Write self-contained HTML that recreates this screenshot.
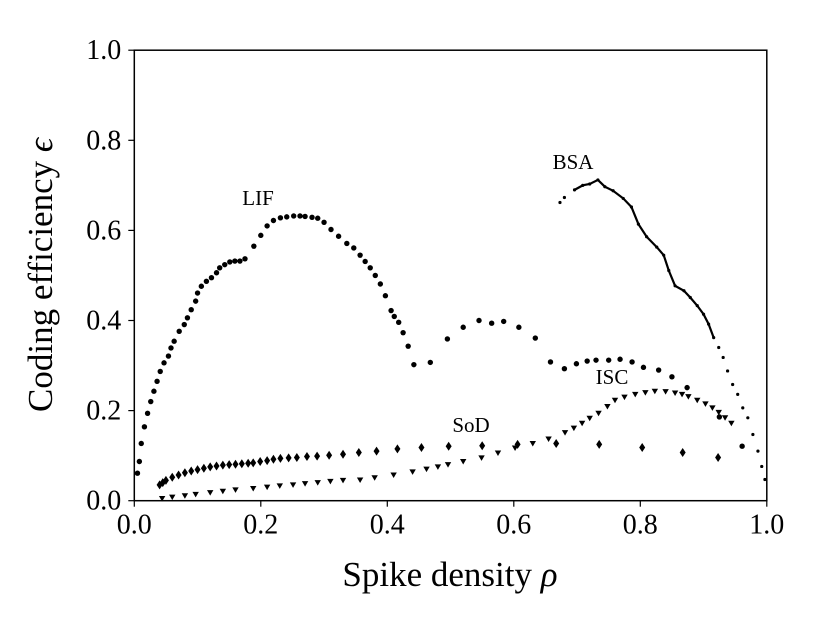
<!DOCTYPE html>
<html><head><meta charset="utf-8">
<style>
html,body{margin:0;padding:0;background:#fff;}
svg{display:block;font-family:"Liberation Serif","DejaVu Serif",serif;}
</style></head>
<body>
<svg id="chart" width="830" height="623" viewBox="0 0 830 623" xmlns="http://www.w3.org/2000/svg">
<g id="axes"></g>
<g id="marks"></g>
</svg>
<script>
const xTicks = [0, 0.2, 0.4, 0.6, 0.8, 1.0];
const xTickLabels = ["0.0","0.2","0.4","0.6","0.8","1.0"];
const yTicks = [0, 0.2, 0.4, 0.6, 0.8, 1.0];
const yTickLabels = ["0.0","0.2","0.4","0.6","0.8","1.0"];

const lifX = [0.005,0.008,0.011,0.016,0.021,0.026,0.031,0.036,0.041,0.047,0.054,0.058,0.063,0.071,0.079,0.084,0.090,0.097,0.100,0.106,0.114,0.122,0.130,0.135,0.143,0.151,0.159,0.167,0.175,0.189,0.200,0.210,0.220,0.231,0.241,0.252,0.262,0.270,0.281,0.290,0.300,0.311,0.323,0.336,0.347,0.357,0.365,0.373,0.381,0.389,0.397,0.406,0.411,0.418,0.425,0.433,0.442,0.468,0.495,0.520,0.545,0.565,0.584,0.608,0.634,0.658,0.680,0.699,0.716,0.730,0.750,0.768,0.787,0.805,0.829,0.850,0.874,0.925,0.961];
const lifY = [0.061,0.087,0.127,0.164,0.194,0.220,0.243,0.265,0.287,0.306,0.321,0.339,0.354,0.376,0.391,0.406,0.424,0.443,0.461,0.476,0.487,0.495,0.506,0.517,0.524,0.530,0.532,0.532,0.537,0.565,0.589,0.610,0.622,0.628,0.630,0.632,0.632,0.631,0.629,0.627,0.618,0.602,0.587,0.571,0.561,0.545,0.531,0.517,0.500,0.481,0.455,0.422,0.409,0.396,0.373,0.343,0.302,0.307,0.359,0.385,0.400,0.394,0.398,0.385,0.361,0.308,0.293,0.304,0.310,0.312,0.312,0.314,0.308,0.296,0.290,0.275,0.251,0.186,0.121];

const bsaX = [0.673,0.680,0.696,0.709,0.720,0.733,0.744,0.757,0.773,0.786,0.797,0.810,0.826,0.837,0.845,0.855,0.869,0.879,0.890,0.900,0.908,0.916,0.924,0.931,0.938,0.946,0.954,0.962,0.970,0.978,0.986,0.992,0.997];
const bsaY = [0.662,0.673,0.690,0.700,0.703,0.712,0.697,0.688,0.671,0.652,0.614,0.586,0.563,0.545,0.511,0.477,0.466,0.451,0.433,0.414,0.392,0.362,0.340,0.318,0.288,0.258,0.236,0.206,0.184,0.147,0.110,0.076,0.047];

const sodX = [0.040,0.045,0.050,0.060,0.070,0.080,0.090,0.100,0.110,0.120,0.130,0.140,0.150,0.160,0.170,0.180,0.188,0.199,0.210,0.220,0.231,0.244,0.257,0.273,0.289,0.308,0.330,0.355,0.383,0.416,0.454,0.497,0.550,0.606,0.667,0.735,0.803,0.867,0.923];
const sodY = [0.035,0.040,0.045,0.052,0.057,0.062,0.066,0.069,0.072,0.075,0.077,0.079,0.080,0.081,0.082,0.083,0.084,0.087,0.089,0.092,0.094,0.095,0.096,0.098,0.099,0.101,0.103,0.107,0.110,0.115,0.118,0.121,0.122,0.125,0.127,0.125,0.118,0.107,0.096];

const iscX = [0.044,0.060,0.080,0.097,0.120,0.140,0.160,0.188,0.210,0.230,0.251,0.270,0.290,0.310,0.330,0.357,0.380,0.410,0.440,0.462,0.480,0.496,0.520,0.549,0.575,0.602,0.630,0.655,0.681,0.695,0.708,0.720,0.734,0.748,0.760,0.775,0.792,0.808,0.823,0.840,0.855,0.866,0.876,0.890,0.903,0.914,0.924,0.934,0.944];
const iscY = [0.005,0.008,0.011,0.014,0.018,0.021,0.024,0.027,0.030,0.033,0.035,0.038,0.040,0.043,0.045,0.046,0.051,0.057,0.064,0.070,0.075,0.080,0.087,0.095,0.106,0.117,0.127,0.137,0.151,0.161,0.172,0.183,0.194,0.209,0.223,0.230,0.236,0.240,0.243,0.242,0.239,0.236,0.231,0.223,0.215,0.206,0.196,0.184,0.172];

const X0=134.3, XW=632.5, Y0=500.7, YH=450.5;
function sx(v){return X0+v*XW;}
function sy(v){return Y0-v*YH;}
const NS="http://www.w3.org/2000/svg";
function mk(tag, attrs, parent){const e=document.createElementNS(NS,tag);for(const k in attrs)e.setAttribute(k,attrs[k]);parent.appendChild(e);return e;}
const axes=document.getElementById('axes');
const marks=document.getElementById('marks');

const frame=mk('rect',{x:X0,y:sy(1),width:XW,height:YH,fill:'none',stroke:'#000','stroke-width':1.5},axes);



xTicks.forEach((t,i)=>{
  const l=mk('line',{x1:sx(t),x2:sx(t),y1:Y0,y2:Y0+6,stroke:'#000','stroke-width':1.2},axes);
  
  
  const tx=mk('text',{x:sx(t),y:Y0+33,'text-anchor':'middle','font-size':28},axes);
  tx.textContent=xTickLabels[i];
  
  
});
yTicks.forEach((t,i)=>{
  const l=mk('line',{x1:X0-6,x2:X0,y1:sy(t),y2:sy(t),stroke:'#000','stroke-width':1.2},axes);
  
  
  const tx=mk('text',{x:X0-13,y:sy(t)+9,'text-anchor':'end','font-size':28},axes);
  tx.textContent=yTickLabels[i];
  
  
});
const xt=mk('text',{x:450,y:586,'text-anchor':'middle','font-size':35},axes);
xt.innerHTML='Spike density <tspan font-style="italic">ρ</tspan>';


const yt=mk('text',{x:0,y:0,'text-anchor':'middle','font-size':35,transform:'translate(52,275) rotate(-90)'},axes);
yt.innerHTML='Coding efficiency <tspan font-style="italic">ϵ</tspan>';



const gL=mk('g',{},marks);


lifX.forEach((v,i)=>{
  const c=mk('circle',{cx:sx(v),cy:sy(lifY[i]),r:2.7,fill:'#000'},gL);
  
  
});
const gB=mk('g',{},marks);


const bl=mk('polyline',{points:bsaX.slice(2,22).map((v,i)=>sx(v)+','+sy(bsaY[i+2])).join(' '),fill:'none',stroke:'#000','stroke-width':2.2},gB);


bsaX.forEach((v,i)=>{
  const c=mk('circle',{cx:sx(v),cy:sy(bsaY[i]),r:1.6,fill:'#000'},gB);
  
  
});
const gS=mk('g',{},marks);


sodX.forEach((v,i)=>{
  const x=sx(v),y=sy(sodY[i]);
  const p=mk('polygon',{points:`${x},${y-4.5} ${x+3},${y} ${x},${y+4.5} ${x-3},${y}`,fill:'#000'},gS);
  
  
});
const gI=mk('g',{},marks);


iscX.forEach((v,i)=>{
  const x=sx(v),y=sy(iscY[i]);
  const p=mk('polygon',{points:`${x-3.2},${y-2.5} ${x+3.2},${y-2.5} ${x},${y+3}`,fill:'#000'},gI);
  
  
});
[['LIF',258,205,'lif-label'],['BSA',573,169,'bsa-label'],['ISC',612,384,'isc-label'],['SoD',471,432,'sod-label']].forEach(a=>{
  const t=mk('text',{x:a[1],y:a[2],'text-anchor':'middle','font-size':21},marks);
  t.textContent=a[0];
  
  
});
</script>
</body></html>
